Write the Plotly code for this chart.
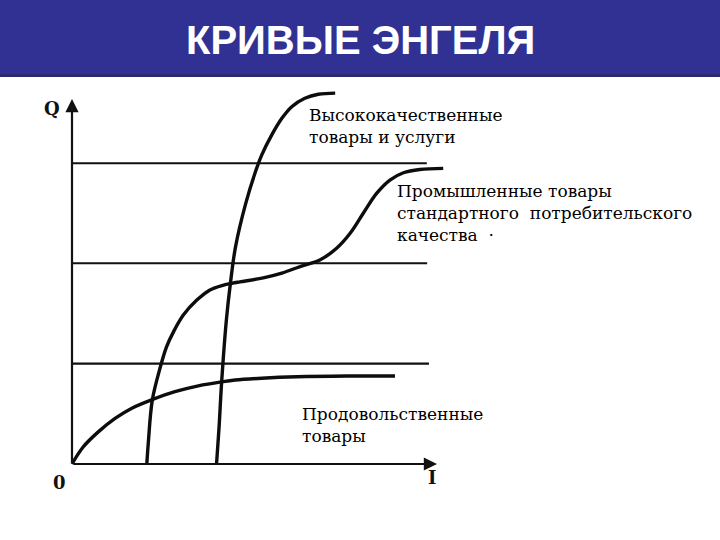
import plotly.graph_objects as go

# ---- data (income I, quantity Q in chart units) ----
food_I = [0, 3.0, 7.2, 11.8, 16.4, 22.1, 28.2, 34.6, 41.0, 44.7, 52.0, 61.6, 75.3, 88.5]
food_Q = [0, 4.6, 8.8, 12.5, 15.3, 17.7, 19.8, 21.4, 22.5, 23.0, 23.5, 23.9, 24.1, 24.1]

ind_I = [20.5, 20.9, 22.0, 24.1, 25.9, 27.8, 30.5, 34.2, 37.8, 41.5, 43.8, 46.0, 52.4, 57.5,
         62.5, 67.9, 72.5, 76.2, 79.8, 83.5, 87.1, 90.8, 95.3, 101.7]
ind_Q = [0, 5.7, 17.5, 26.2, 32.1, 36.2, 40.8, 44.9, 47.7, 49.0, 49.5, 49.9, 51.0, 52.3,
         54.1, 55.9, 59.1, 63.2, 68.7, 74.2, 77.8, 79.8, 80.7, 81.0]

lux_I = [39.6, 40.3, 41.0, 42.3, 43.4, 44.8, 47.6, 50.1, 52.0, 54.7, 57.5, 60.2, 63.8, 67.5, 72.1]
lux_Q = [0, 10.2, 22.5, 39.5, 49.5, 59.5, 71.4, 79.6, 84.7, 90.1, 94.7, 97.9, 100.2, 101.3, 101.6]

level_Q = [82.4, 55.0, 27.5]
level_end_I = [97.2, 97.3, 97.8]

axis_max_I = 100
axis_max_Q = 100

labels = [
    "Высококачественные<br>товары и услуги",
    "Промышленные товары<br>стандартного  потребительского<br>качества  ·",
    "Продовольственные<br>товары",
]
label_I = [64.3, 88.5, 62.5]
label_Q = [92.6, 68.8, 10.7]

title = "КРИВЫЕ ЭНГЕЛЯ"

# ---- figure ----
fig = go.Figure()

for q, e in zip(level_Q, level_end_I):
    fig.add_trace(go.Scatter(x=[0, e], y=[q, q], mode="lines",
                             line=dict(color="#111", width=2.2), hoverinfo="skip"))

for xs, ys in [(food_I, food_Q), (ind_I, ind_Q), (lux_I, lux_Q)]:
    fig.add_trace(go.Scatter(x=xs, y=ys, mode="lines",
                             line=dict(color="#0d0d0d", width=3.4, shape="spline", smoothing=1),
                             hoverinfo="skip"))

serif = "DejaVu Serif"
ann = []
# axes with arrows
ann.append(dict(x=axis_max_I, y=0, ax=0, ay=0, xref="x", yref="y", axref="x", ayref="y",
                showarrow=True, arrowhead=2, arrowsize=1.2, arrowwidth=2.2, arrowcolor="#111", text=""))
ann.append(dict(x=0, y=axis_max_Q, ax=0, ay=0, xref="x", yref="y", axref="x", ayref="y",
                showarrow=True, arrowhead=2, arrowsize=1.2, arrowwidth=2.2, arrowcolor="#111", text=""))
for t, xi, yi in zip(labels, label_I, label_Q):
    ann.append(dict(x=xi, y=yi, xref="x", yref="y", text=t, showarrow=False,
                    xanchor="left", yanchor="middle", align="left",
                    font=dict(family=serif, size=17, color="#000")))
ann.append(dict(x=-5.5, y=97.4, xref="x", yref="y", text="<b>Q</b>", showarrow=False,
                font=dict(family=serif, size=18, color="#111")))
ann.append(dict(x=-3.3, y=-5.2, xref="x", yref="y", text="<b>0</b>", showarrow=False,
                font=dict(family=serif, size=18, color="#111")))
ann.append(dict(x=98.6, y=-3.8, xref="x", yref="y", text="<b>I</b>", showarrow=False,
                font=dict(family=serif, size=18, color="#111")))
ann.append(dict(x=0.5, y=1 - 40 / 540, xref="paper", yref="paper", text="<b>" + title + "</b>",
                showarrow=False, xanchor="center", yanchor="middle",
                font=dict(family="Liberation Sans", size=40, color="white")))

shapes = [
    dict(type="rect", xref="paper", yref="paper", x0=0, x1=1, y0=1 - 77 / 540, y1=1,
         fillcolor="#313194", line=dict(width=0), layer="below"),
    dict(type="rect", xref="paper", yref="paper", x0=0, x1=1, y0=1 - 77 / 540, y1=1 - 74 / 540,
         fillcolor="#2a2a70", line=dict(width=0), layer="below"),
]

px_per_unit = 3.65
x0_px, y0_px = 72, 464
fig.update_layout(
    width=720, height=540,
    margin=dict(l=0, r=0, t=0, b=0),
    paper_bgcolor="white", plot_bgcolor="white",
    showlegend=False,
    xaxis=dict(range=[-x0_px / px_per_unit, (720 - x0_px) / px_per_unit], visible=False, fixedrange=True),
    yaxis=dict(range=[-(540 - y0_px) / px_per_unit, y0_px / px_per_unit], visible=False, fixedrange=True),
    annotations=ann, shapes=shapes,
)

fig.write_html("out.html", config={"displayModeBar": False},
               post_script="document.body.style.margin='0px';document.body.style.overflow='hidden';")
